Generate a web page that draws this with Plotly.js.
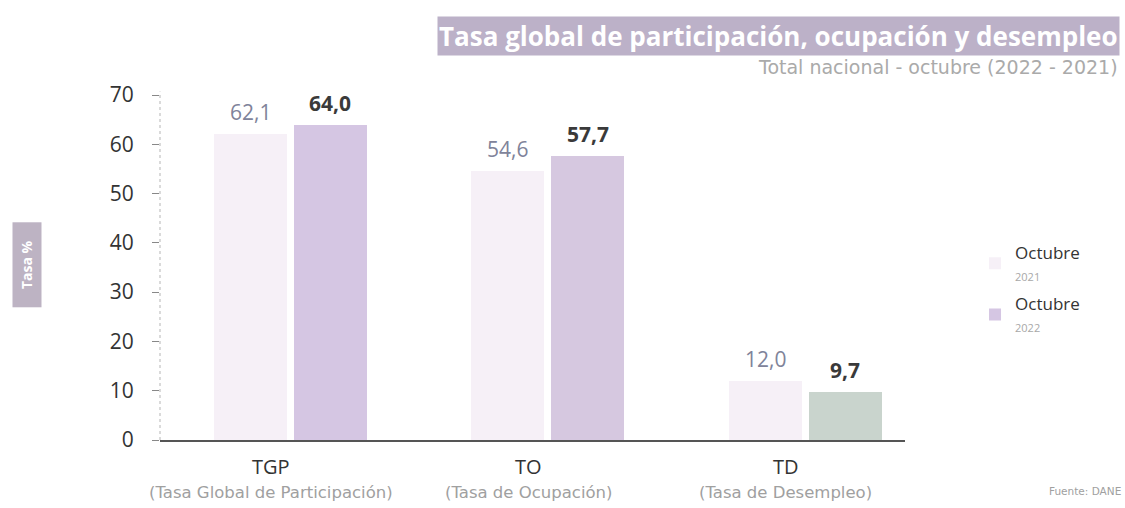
<!DOCTYPE html>
<html>
<head>
<meta charset="utf-8">
<script src="https://cdn.plot.ly/plotly-3.0.1.min.js"></script>
<style>html,body{margin:0;padding:0;background:#fff;}#chart{width:1125px;height:508px;}</style>
</head>
<body>
<div id="chart"></div>
<script>
const categories = ['TGP', 'TO', 'TD'];
const categoryNames = ['(Tasa Global de Participación)', '(Tasa de Ocupación)', '(Tasa de Desempleo)'];
const values2021 = [62.1, 54.6, 12.0];
const values2022 = [64.0, 57.7, 9.7];
const seriesNames = ['Octubre', 'Octubre'];
const seriesYears = ['2021', '2022'];
const yTicks = [0, 10, 20, 30, 40, 50, 60, 70];

const fmt = v => v.toFixed(1).replace('.', ',');
const W = 0.284, OFF21 = -0.30, OFF22 = 0.01;

const traces = [
  {
    type: 'bar', x: categories, y: values2021,
    name: seriesNames[0] + '<br><span style="font-size:11px;color:#a8a8a8">' + seriesYears[0] + '</span>',
    legendgroup: 'a',
    width: W, offset: OFF21,
    marker: {color: '#f6f0f7'},
    hoverinfo: 'skip'
  },
  {
    type: 'bar', x: categories, y: values2022,
    name: seriesNames[1] + '<br><span style="font-size:11px;color:#a8a8a8">' + seriesYears[1] + '</span>',
    legendgroup: 'b',
    width: W, offset: OFF22,
    marker: {color: ['#d5c6e3', '#d6c8e0', '#c9d4cd']},
    hoverinfo: 'skip'
  }
];

const annotations = [];
categories.forEach((c, i) => {
  annotations.push({xref: 'x', yref: 'y', x: i + OFF21 + W / 2, y: values2021[i], yshift: 22, yanchor: 'middle',
    text: fmt(values2021[i]), showarrow: false,
    font: {family: 'Open Sans', size: 21, color: '#80839a'}});
  annotations.push({xref: 'x', yref: 'y', x: i + OFF22 + W / 2, y: values2022[i], yshift: 22, yanchor: 'middle',
    text: '<b>' + fmt(values2022[i]) + '</b>', showarrow: false,
    font: {family: 'Open Sans', size: 21, color: '#3a3a3a'}});
  annotations.push({xref: 'x', yref: 'paper', x: i, y: 0, yshift: -26, xshift: -20, yanchor: 'middle',
    text: c, showarrow: false,
    font: {family: 'Open Sans', size: 20, color: '#333'}});
  annotations.push({xref: 'x', yref: 'paper', x: i, y: 0, yshift: -52, xshift: -20, yanchor: 'middle',
    text: categoryNames[i], showarrow: false,
    font: {family: 'DejaVu Sans', size: 16.5, color: '#a0a0a0'}});
});

annotations.push({xref: 'paper', yref: 'paper', x: 1.289, y: 1.171, xanchor: 'right', yanchor: 'middle',
  text: '<b>Tasa global de participación, ocupación y desempleo</b>', showarrow: false,
  bgcolor: '#bcb1c8', borderpad: 1,
  font: {family: 'Open Sans', size: 26, color: '#ffffff'}});
annotations.push({xref: 'paper', yref: 'paper', x: 1.289, y: 1.081, xanchor: 'right', yanchor: 'middle',
  text: 'Total nacional - octubre (2022 - 2021)', showarrow: false,
  font: {family: 'DejaVu Sans', size: 19, color: '#aaaaaa'}});
annotations.push({xref: 'paper', yref: 'paper', x: -0.178, y: 0.509, xanchor: 'center', yanchor: 'middle',
  text: '<b>Tasa %</b>', textangle: -90, showarrow: false,
  width: 80, height: 24,
  bgcolor: '#bdb3c3', borderpad: 2,
  font: {family: 'Open Sans', size: 14, color: '#ffffff'}});
annotations.push({xref: 'paper', yref: 'paper', x: 1.2925, y: 0, yshift: -51, xanchor: 'right', yanchor: 'middle',
  text: 'Fuente: DANE', showarrow: false,
  font: {family: 'DejaVu Sans', size: 10.5, color: '#a0a0a0'}});

const shapes = [
  {type: 'line', xref: 'paper', yref: 'paper', x0: 0, x1: 0, y0: 0, y1: 1.01,
   line: {color: '#b5b5b5', width: 1, dash: 'dot'}}
];

const layout = {
  width: 1125, height: 508,
  margin: {l: 160, r: 220, t: 95, b: 68},
  paper_bgcolor: '#ffffff', plot_bgcolor: '#ffffff',
  showlegend: true,
  legend: {x: 1.094, y: 0.595, xanchor: 'left', yanchor: 'top',
    font: {family: 'Open Sans', size: 17, color: '#333'},
    tracegroupgap: 4, itemsizing: 'constant', traceorder: 'grouped'},
  xaxis: {type: 'category', range: [-0.51, 2.385], showticklabels: false, ticks: '',
    showline: true, linecolor: '#555', linewidth: 1.5, showgrid: false, zeroline: false, fixedrange: true},
  yaxis: {range: [0, 70], tickvals: yTicks, ticks: 'outside', ticklen: 7, tickcolor: '#888',
    showline: false, showgrid: false, zeroline: false,
    tickfont: {family: 'Open Sans', size: 21, color: '#333'}, ticklabelstandoff: 14},
  annotations: annotations,
  shapes: shapes,
  bargap: 0, barmode: 'group'
};

Plotly.newPlot('chart', traces, layout, {displayModeBar: false, staticPlot: true});
</script>
</body>
</html>
